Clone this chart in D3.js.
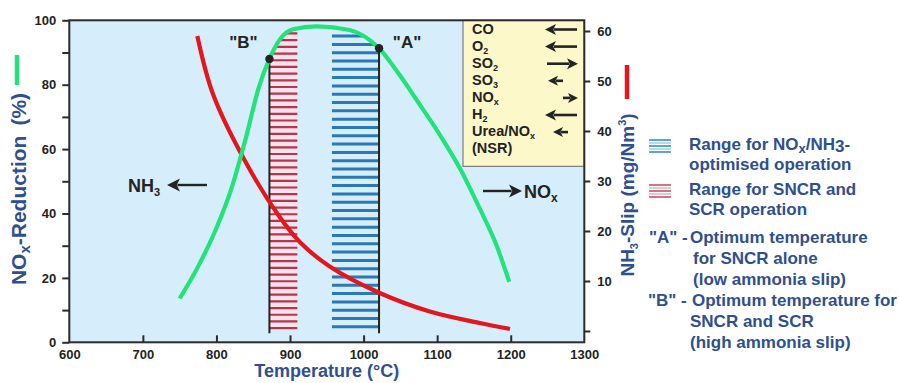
<!DOCTYPE html>
<html>
<head>
<meta charset="utf-8">
<script src="https://cdn.jsdelivr.net/npm/d3@7"></script>
<style>
  body { margin: 0; background: #fff; }
  svg text { font-family: "Liberation Sans", Arial, sans-serif; font-weight: bold; }
</style>
</head>
<body>
<svg id="chart" width="899" height="383"></svg>
<script>
// Axis ticks.
const tempTicks = [600, 700, 800, 900, 1000, 1100, 1200, 1300];
const reductionTicks = [0, 10, 20, 30, 40, 50, 60, 70, 80, 90, 100];
const slipTicks = [0, 10, 20, 30, 40, 50, 60];

// NOx reduction (%) against temperature, green curve.
const greenTemp = [750, 775, 800, 820, 840, 858, 872, 886, 904, 936, 981, 1021, 1049, 1077, 1104, 1131, 1158, 1180, 1198];
const greenReduction = [13.6, 23.5, 35.5, 47.5, 63.5, 79.5, 88, 94, 97.2, 98.1, 97, 91.3, 83, 73.6, 64.3, 54, 41.5, 30.5, 18.8];

// NH3 slip (mg/Nm3) against temperature, red curve.
const redTemp = [774, 795, 837, 885, 914, 954, 1022, 1090, 1158, 1199];
const redSlip = [59, 47.5, 34.5, 23, 17.7, 12.9, 7.6, 3.9, 1.6, 0.4];

// Operating windows and optimum points.
const sncrScrRange = [872, 910];
const optimisedRange = [957, 1021];
const points = [
  { name: '"B"', temp: 872, value: 88 },
  { name: '"A"', temp: 1021, value: 91.3 },
];

// Influence box: species, subscript, effect (-2 strong left ... +2 strong right).
const species = ["CO", "O", "SO", "SO", "NO", "H", "Urea/NO", "(NSR)"];
const speciesSub = ["", "2", "2", "3", "x", "2", "x", ""];
const speciesEffect = [-2, -2, 2, -1, 1, -2, -1, 0];

// Rendering variables.
const svg = d3.select("#chart");
const blue = "#2f4f8e";
const green = "#22e27a";
const red = "#e3161d";
const ink = "#232323";

const x = d3.scaleLinear().domain([600, 1300]).range([69.3, 584.3]);
const yL = d3.scaleLinear().domain([0, 100]).range([342.3, 20.3]);
const yR = d3.scaleLinear().domain([0, 60]).range([331, 31]);

// Draws a line with a filled head at (x2, y).
function arrow(g, x1, x2, y, head, width) {
  const dir = Math.sign(x2 - x1);
  g.append("line")
    .attr("x1", x1).attr("x2", x2 - dir * head * 0.8)
    .attr("y1", y).attr("y2", y)
    .attr("stroke", ink).attr("stroke-width", width);
  g.append("path")
    .attr("d", `M${x2},${y} L${x2 - dir * head},${y - head * 0.5} L${x2 - dir * head * 0.75},${y} L${x2 - dir * head},${y + head * 0.5} Z`)
    .attr("fill", ink);
}

// Plot background.
svg.append("rect")
  .attr("x", x(600)).attr("y", yL(100))
  .attr("width", x(1300) - x(600)).attr("height", yL(0) - yL(100))
  .attr("fill", "#d6edfb");

// Influence box.
const box = svg.append("g");
box.append("rect")
  .attr("x", 463).attr("y", yL(100))
  .attr("width", x(1300) - 463).attr("height", 146)
  .attr("fill", "#fdf8c9").attr("stroke", "#666").attr("stroke-width", 1);

species.forEach((s, i) => {
  const y = 33.5 + i * 17.1;
  const t = box.append("text").attr("x", 472).attr("y", y)
    .attr("font-size", 14.5).attr("fill", ink).text(s);
  if (speciesSub[i]) {
    t.append("tspan").attr("font-size", 9).attr("dy", 3).text(speciesSub[i]);
  }
  const e = speciesEffect[i];
  if (e === -2) arrow(box, 577, 545, y - 4, 11, 2.6);
  if (e === 2) arrow(box, 547, 578, y - 4, 11, 2.6);
  if (e === -1) arrow(box, i === 6 ? 568 : 563, i === 6 ? 553 : 548, y - 4, 10, 2.6);
  if (e === 1) arrow(box, 563, 578, y - 4, 10, 2.6);
});

// Clip for the hatching: area under the green curve.
const greenData = greenTemp.map((t, i) => ({ t, v: greenReduction[i] }));
const redData = redTemp.map((t, i) => ({ t, v: redSlip[i] }));

svg.append("clipPath").attr("id", "under")
  .append("path")
  .attr("d", d3.area()
    .x((d) => x(d.t))
    .y0(yL(0))
    .y1((d) => yL(d.v))
    .curve(d3.curveMonotoneX)(greenData));

const hatch = svg.append("g").attr("clip-path", "url(#under)");

hatch.append("rect")
  .attr("x", x(sncrScrRange[0])).attr("width", x(sncrScrRange[1]) - x(sncrScrRange[0]))
  .attr("y", yL(100)).attr("height", yL(4) - yL(100))
  .attr("fill", "#f5e4ec");

hatch.selectAll("line.red")
  .data(d3.range(4.4, 100, 2.08))
  .join("line")
  .attr("class", "red")
  .attr("x1", x(sncrScrRange[0])).attr("x2", x(sncrScrRange[1]))
  .attr("y1", (d) => yL(d)).attr("y2", (d) => yL(d))
  .attr("stroke", "#b8334e").attr("stroke-width", 2.2);

hatch.selectAll("line.blue")
  .data(d3.range(4.8, 100, 2.58))
  .join("line")
  .attr("class", "blue")
  .attr("x1", x(optimisedRange[0])).attr("x2", x(optimisedRange[1]))
  .attr("y1", (d) => yL(d)).attr("y2", (d) => yL(d))
  .attr("stroke", "#2a79b6").attr("stroke-width", 3);

// Optimum temperature lines.
svg.selectAll("line.opt")
  .data(points)
  .join("line")
  .attr("class", "opt")
  .attr("x1", (p) => x(p.temp)).attr("x2", (p) => x(p.temp))
  .attr("y1", yL(2.8)).attr("y2", (p) => yL(p.value))
  .attr("stroke", ink).attr("stroke-width", 2);

// Curves.
svg.append("path")
  .attr("d", d3.line().x((d) => x(d.t)).y((d) => yR(d.v)).curve(d3.curveCatmullRom.alpha(0.5))(redData))
  .attr("fill", "none").attr("stroke", red).attr("stroke-width", 4.2);

svg.append("path")
  .attr("d", d3.line().x((d) => x(d.t)).y((d) => yL(d.v)).curve(d3.curveMonotoneX)(greenData))
  .attr("fill", "none").attr("stroke", green).attr("stroke-width", 4.2);

svg.selectAll("circle.opt")
  .data(points)
  .join("circle")
  .attr("class", "opt")
  .attr("cx", (p) => x(p.temp)).attr("cy", (p) => yL(p.value))
  .attr("r", 4.2).attr("fill", ink);

svg.selectAll("text.opt")
  .data(points)
  .join("text")
  .attr("class", "opt")
  .attr("x", (p, i) => x(p.temp) + (i === 0 ? -26 : 28))
  .attr("y", 48)
  .attr("text-anchor", "middle")
  .attr("font-size", 17).attr("fill", ink)
  .text((p) => p.name);

// NH3 / NOx direction notes.
const nh3 = svg.append("text").attr("x", 128).attr("y", 192)
  .attr("font-size", 18).attr("fill", ink).text("NH");
nh3.append("tspan").attr("font-size", 11).attr("dy", 4).text("3");
arrow(svg, 207, 167, 185, 13, 2.4);

arrow(svg, 483, 522, 191, 13, 2.4);
const nox = svg.append("text").attr("x", 524).attr("y", 198)
  .attr("font-size", 18).attr("fill", ink).text("NO");
nox.append("tspan").attr("font-size", 12).attr("dy", 4).text("x");

// Plot frame.
svg.append("rect")
  .attr("x", x(600)).attr("y", yL(100))
  .attr("width", x(1300) - x(600)).attr("height", yL(0) - yL(100))
  .attr("fill", "none").attr("stroke", "#2b2b2b").attr("stroke-width", 2);

// Axes.
function styleAxis(g, size) {
  g.select(".domain").remove();
  g.attr("font-size", size);
  g.selectAll(".tick line").attr("stroke", "#2b2b2b").attr("stroke-width", 2);
  g.selectAll(".tick text").attr("fill", ink);
}

svg.append("g")
  .attr("transform", `translate(0,${yL(0)})`)
  .call(d3.axisBottom(x).tickValues(tempTicks).tickSize(-7).tickPadding(7).tickFormat(d3.format("d")))
  .call((g) => styleAxis(g, 13))
  .call((g) => g.selectAll(".tick line").filter((d) => d === 600 || d === 1300).remove());

svg.append("g")
  .attr("transform", `translate(${x(600)},0)`)
  .call(d3.axisLeft(yL).tickValues(reductionTicks).tickSize(7).tickPadding(6)
    .tickFormat((d) => (d % 20 === 0 ? d : "")))
  .call((g) => styleAxis(g, 13));

svg.append("g")
  .attr("transform", `translate(${x(1300)},0)`)
  .call(d3.axisRight(yR).tickValues(slipTicks).tickSize(6).tickPadding(7)
    .tickFormat((d) => (d === 0 ? "" : d)))
  .call((g) => styleAxis(g, 13));

// Axis titles.
svg.append("text")
  .attr("x", (x(600) + x(1300)) / 2).attr("y", 377)
  .attr("text-anchor", "middle").attr("font-size", 18).attr("fill", blue)
  .text("Temperature (°C)");

const leftTitle = svg.append("text")
  .attr("transform", "translate(26,189) rotate(-90)")
  .attr("text-anchor", "middle").attr("font-size", 21).attr("fill", blue);
leftTitle.append("tspan").text("NO");
leftTitle.append("tspan").attr("font-size", 15).attr("dy", 4).text("x");
leftTitle.append("tspan").attr("dy", -4).text("-Reduction");
leftTitle.append("tspan").attr("dx", 10).text("(%)");

svg.append("line")
  .attr("x1", 17).attr("x2", 17).attr("y1", 55).attr("y2", 85)
  .attr("stroke", green).attr("stroke-width", 4.5);

const rightTitle = svg.append("text")
  .attr("transform", "translate(634,195) rotate(-90)")
  .attr("text-anchor", "middle").attr("font-size", 19).attr("fill", blue);
rightTitle.append("tspan").text("NH");
rightTitle.append("tspan").attr("font-size", 11).attr("dy", 4).text("3");
rightTitle.append("tspan").attr("dy", -4).text("-Slip (mg/Nm");
rightTitle.append("tspan").attr("font-size", 11).attr("dy", -8).text("3");
rightTitle.append("tspan").attr("dy", 8).text(")");

svg.append("line")
  .attr("x1", 627).attr("x2", 627).attr("y1", 65).attr("y2", 99)
  .attr("stroke", red).attr("stroke-width", 4.5);

// Legend on the right.
const legend = svg.append("g").attr("font-size", 17).attr("fill", blue);

function swatch(y, colors) {
  d3.range(5).forEach((k) => {
    legend.append("line")
      .attr("x1", 649).attr("x2", 671)
      .attr("y1", y + k * 3).attr("y2", y + k * 3)
      .attr("stroke", colors[k % 2]).attr("stroke-width", 1.6);
  });
}
swatch(140, ["#3a8fc0", "#9fd6e6"]);
swatch(185, ["#c2566b", "#eab8c4"]);

const l1 = legend.append("text").attr("x", 689).attr("y", 150).text("Range for NO");
l1.append("tspan").attr("font-size", 13).attr("dy", 3).text("x");
l1.append("tspan").attr("dy", -3).text("/NH");
l1.append("tspan").attr("dy", 2).text("3");
l1.append("tspan").attr("dy", -2).text("-");
legend.append("text").attr("x", 689).attr("y", 170).text("optimised operation");
legend.append("text").attr("x", 689).attr("y", 195).text("Range for SNCR and");
legend.append("text").attr("x", 689).attr("y", 215).text("SCR operation");

legend.append("text").attr("x", 649).attr("y", 243).text('"A" -');
legend.append("text").attr("x", 690).attr("y", 243).text("Optimum temperature");
legend.append("text").attr("x", 693).attr("y", 264).text("for SNCR alone");
legend.append("text").attr("x", 693).attr("y", 285).text("(low ammonia slip)");
legend.append("text").attr("x", 648).attr("y", 306).text('"B" -');
legend.append("text").attr("x", 692).attr("y", 306).text("Optimum temperature for");
legend.append("text").attr("x", 690).attr("y", 327).text("SNCR and SCR");
legend.append("text").attr("x", 690).attr("y", 348).text("(high ammonia slip)");
</script>
</body>
</html>
